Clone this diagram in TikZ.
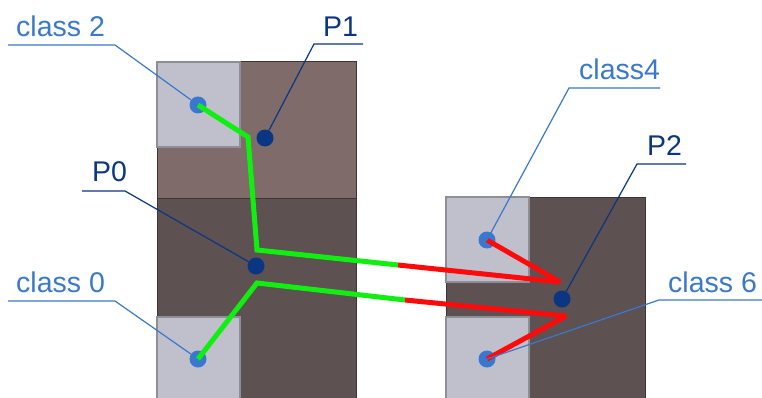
\documentclass[tikz,border=0pt]{standalone}
\usepackage{fontspec}
\setmainfont{Liberation Sans}
\definecolor{brownblk}{HTML}{7F6B69}
\definecolor{darkblk}{HTML}{5D5151}
\definecolor{lightsq}{HTML}{BFC0CC}
\definecolor{lightedge}{HTML}{8E8E96}
\definecolor{blkedge}{HTML}{3B3535}
\definecolor{lineg}{HTML}{10F010}
\definecolor{liner}{HTML}{FF0A0A}
\definecolor{dotblue}{HTML}{3A78D0}
\definecolor{navy}{HTML}{0B3682}
\definecolor{lblblue}{HTML}{3A78CC}
\tikzset{
  blk/.style={draw=blkedge, line width=1pt},
  sq/.style={fill=lightsq, draw=lightedge, line width=1.5pt},
  cdot/.style={circle, fill=dotblue, inner sep=0pt, minimum size=17pt},
  pdot/.style={circle, fill=navy, inner sep=0pt, minimum size=17pt},
  gpath/.style={draw=lineg, line width=5pt, line join=miter},
  rpath/.style={draw=liner, line width=5pt, line join=bevel},
  clab/.style={text=lblblue, font=\fontsize{28.5}{30}\selectfont, anchor=base west, inner sep=0pt},
  plab/.style={text=navy, font=\fontsize{28.5}{30}\selectfont, anchor=base west, inner sep=0pt},
  cline/.style={draw=lblblue, line width=1.2pt},
  pline/.style={draw=navy, line width=1.2pt}
}
\begin{document}
\begin{tikzpicture}[x=1pt,y=-1pt]
\useasboundingbox (0,0) rectangle (762,398);
% left block
\fill[brownblk] (157,62) rectangle (356,198);
\fill[darkblk] (157,198) rectangle (356,400);
\draw[blk] (157,400) -- (157,62) -- (356,62) -- (356,400);
\draw[blk] (157,198) -- (356,198);
\draw[sq] (157,62) rectangle (240,147);
\draw[sq] (157,317) rectangle (240,400);
% right block
\fill[darkblk] (446,197) rectangle (645,400);
\draw[blk] (446,400) -- (446,197) -- (645,197) -- (645,400);
\draw[sq] (446,197) rectangle (529,282);
\draw[sq] (446,317) rectangle (529,400);
% dots
\node[cdot] (c2) at (198,105) {};
\node[pdot] (p1) at (265,138) {};
\node[pdot] (p0) at (256,266) {};
\node[cdot] (c0) at (198,359) {};
\node[cdot] (c4) at (487,240) {};
\node[pdot] (p2) at (562,299) {};
\node[cdot] (c6) at (487,359) {};
% path coordinates
\coordinate (a1) at (248,137);
\coordinate (a2) at (257,250);
\coordinate (a3) at (398,265);
\coordinate (v1) at (560,282);
\coordinate (b1) at (257,283);
\coordinate (b2) at (405,300);
\coordinate (v2) at (566,316);
% green / red paths
\draw[gpath] (c2.center) -- (a1) -- (a2) -- (a3);
\draw[rpath] (a3) -- (v1) -- (c4.center);
\draw[gpath] (c0.center) -- (b1) -- (b2);
\draw[rpath] (b2) -- (v2) -- (c6.center);
% labels
\node[clab] (l2) at (16,37) {class 2};
\node[plab] (l1) at (323,37) {P1};
\node[plab] (l0) at (92,182) {P0};
\node[clab] (l0c) at (16,292) {class 0};
\node[clab] (l4) at (579,80) {class4};
\node[plab] (lp2) at (647,156) {P2};
\node[clab] (l6) at (668,292) {class 6};
% callout coordinates
\coordinate (u2a) at (8,45); \coordinate (u2b) at (115,45);
\coordinate (u1a) at (314,44); \coordinate (u1b) at (363,44);
\coordinate (u0a) at (82,191); \coordinate (u0b) at (125,191);
\coordinate (u0ca) at (8,301); \coordinate (u0cb) at (115,301);
\coordinate (u4a) at (569,88); \coordinate (u4b) at (660,88);
\coordinate (up2a) at (637,164); \coordinate (up2b) at (686,164);
\coordinate (u6a) at (659,300); \coordinate (u6b) at (762,300);
\draw[cline] (u2a) -- (u2b) -- (c2);
\draw[pline] (u1b) -- (u1a) -- (p1);
\draw[pline] (u0a) -- (u0b) -- (p0);
\draw[cline] (u0ca) -- (u0cb) -- (c0);
\draw[cline] (u4b) -- (u4a) -- (c4.center);
\draw[pline] (up2b) -- (up2a) -- (p2);
\draw[cline] (u6b) -- (u6a) -- (c6.center);
\end{tikzpicture}
\end{document}
